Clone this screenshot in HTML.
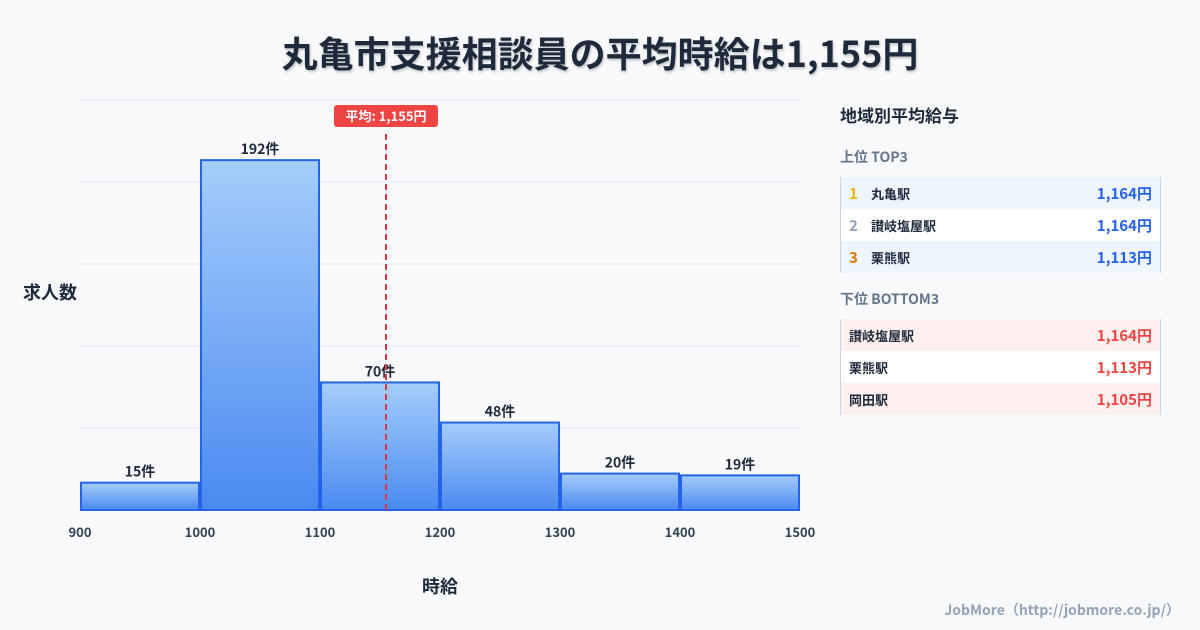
<!DOCTYPE html>
<html><head><meta charset="utf-8"><style>
body{margin:0;width:1200px;height:630px;background:#f8f9fb;font-family:"Noto Sans CJK JP",sans-serif;overflow:hidden;position:relative}
svg text{font-family:"Noto Sans CJK JP",sans-serif}
.panel{position:absolute;left:840px;top:96px;width:321px}
.row{height:32px;display:flex;align-items:center;font-size:13px;font-weight:bold;color:#1e293b;border-right:1px solid #cbd5e1;border-left:1px solid #cbd5e1;box-sizing:border-box;padding:0 8px}
.row .v{margin-left:auto;font-size:15px}
</style></head><body>
<div style="position:absolute;left:0;top:26px;width:1200px;text-align:center;font-size:36px;line-height:52px;font-weight:bold;color:#1e293b;text-shadow:1px 2px 2px rgba(0,0,0,0.2)">丸亀市支援相談員の平均時給は1,155円</div>
<svg width="1200" height="630" style="position:absolute;left:0;top:0">
<defs><linearGradient id="g" x1="0" y1="0" x2="0" y2="1"><stop offset="0" stop-color="#a5cdfb"/><stop offset="1" stop-color="#4a8af0"/></linearGradient></defs>
<g id="grid"></g><g id="bars"></g><g id="ticks"></g><g id="avg"></g>
<text x="50" y="299" font-size="18" font-weight="bold" fill="#1e293b" text-anchor="middle">求人数</text>
<text x="440" y="593" font-size="18" font-weight="bold" fill="#1e293b" text-anchor="middle">時給</text>
</svg>
<div class="panel">
<div style="font-size:17px;line-height:38px;font-weight:bold;color:#1e293b">地域別平均給与</div>
<div style="font-size:14px;line-height:20px;font-weight:bold;color:#64748b;margin-top:13px;margin-bottom:10px">上位 TOP3</div>
<div class="row" style="background:#eef5ff"><span style="color:#eab308;width:22px;font-size:15px">1</span>丸亀駅<span class="v" style="color:#2563eb">1,164円</span></div>
<div class="row" style="background:#fff"><span style="color:#94a3b8;width:22px;font-size:15px">2</span>讃岐塩屋駅<span class="v" style="color:#2563eb">1,164円</span></div>
<div class="row" style="background:#eef5ff"><span style="color:#d97706;width:22px;font-size:15px">3</span>栗熊駅<span class="v" style="color:#2563eb">1,113円</span></div>
<div style="font-size:14px;line-height:20px;font-weight:bold;color:#64748b;margin-top:16px;margin-bottom:10px">下位 BOTTOM3</div>
<div class="row" style="background:#fff0f0">讃岐塩屋駅<span class="v" style="color:#ef4444">1,164円</span></div>
<div class="row" style="background:#fff">栗熊駅<span class="v" style="color:#ef4444">1,113円</span></div>
<div class="row" style="background:#fff0f0">岡田駅<span class="v" style="color:#ef4444">1,105円</span></div>
</div>
<div style="position:absolute;right:20px;top:600px;font-size:14px;font-weight:bold;color:#94a3b8">JobMore（http://jobmore.co.jp/）</div>
<script>
const binStarts=[900,1000,1100,1200,1300,1400];
const counts=[15,192,70,48,20,19];
const xTicks=[900,1000,1100,1200,1300,1400,1500];
const avgValue=1155;
const yMax=225;
const NS="http://www.w3.org/2000/svg";
const X=v=>80+(v-900)/600*720, Y=v=>510-v/yMax*410;
function mk(t,a,p){const e=document.createElementNS(NS,t);for(const k in a)e.setAttribute(k,a[k]);p.appendChild(e);return e;}
const grid=document.getElementById('grid');
for(let i=0;i<=5;i++){const gl=mk('line',{x1:80,x2:800,y1:510-i*82,y2:510-i*82,stroke:'#e2e8f0','stroke-width':1},grid);

}
const bars=document.getElementById('bars');
counts.forEach((c,i)=>{const x0=X(binStarts[i])+1,x1=X(binStarts[i]+100)-1;
const r=mk('rect',{x:x0,y:Y(c),width:x1-x0,height:510-Y(c),fill:'url(#g)',stroke:'#2563eb','stroke-width':2},bars);


const t=mk('text',{x:(x0+x1)/2,y:Y(c)-6,'text-anchor':'middle','font-size':14,'font-weight':'bold',fill:'#1e293b'},bars);t.textContent=c+'件';

});
const ticks=document.getElementById('ticks');
xTicks.forEach(v=>{const t=mk('text',{x:X(v),y:537,'text-anchor':'middle','font-size':13,'font-weight':'bold',fill:'#334155'},ticks);t.textContent=v;

});
const ag=document.getElementById('avg');const ax=X(avgValue);
const l=mk('line',{x1:ax,x2:ax,y1:134,y2:510,stroke:'#dc3545','stroke-width':2,'stroke-dasharray':'6,4'},ag);


const b=mk('rect',{x:ax-52,y:105,width:104,height:22,rx:3,fill:'#ef4444'},ag);


const bt=mk('text',{x:ax,y:121,'text-anchor':'middle','font-size':13,'font-weight':'bold',fill:'#fff'},ag);bt.textContent='平均: 1,155円';


</script>
</body></html>
